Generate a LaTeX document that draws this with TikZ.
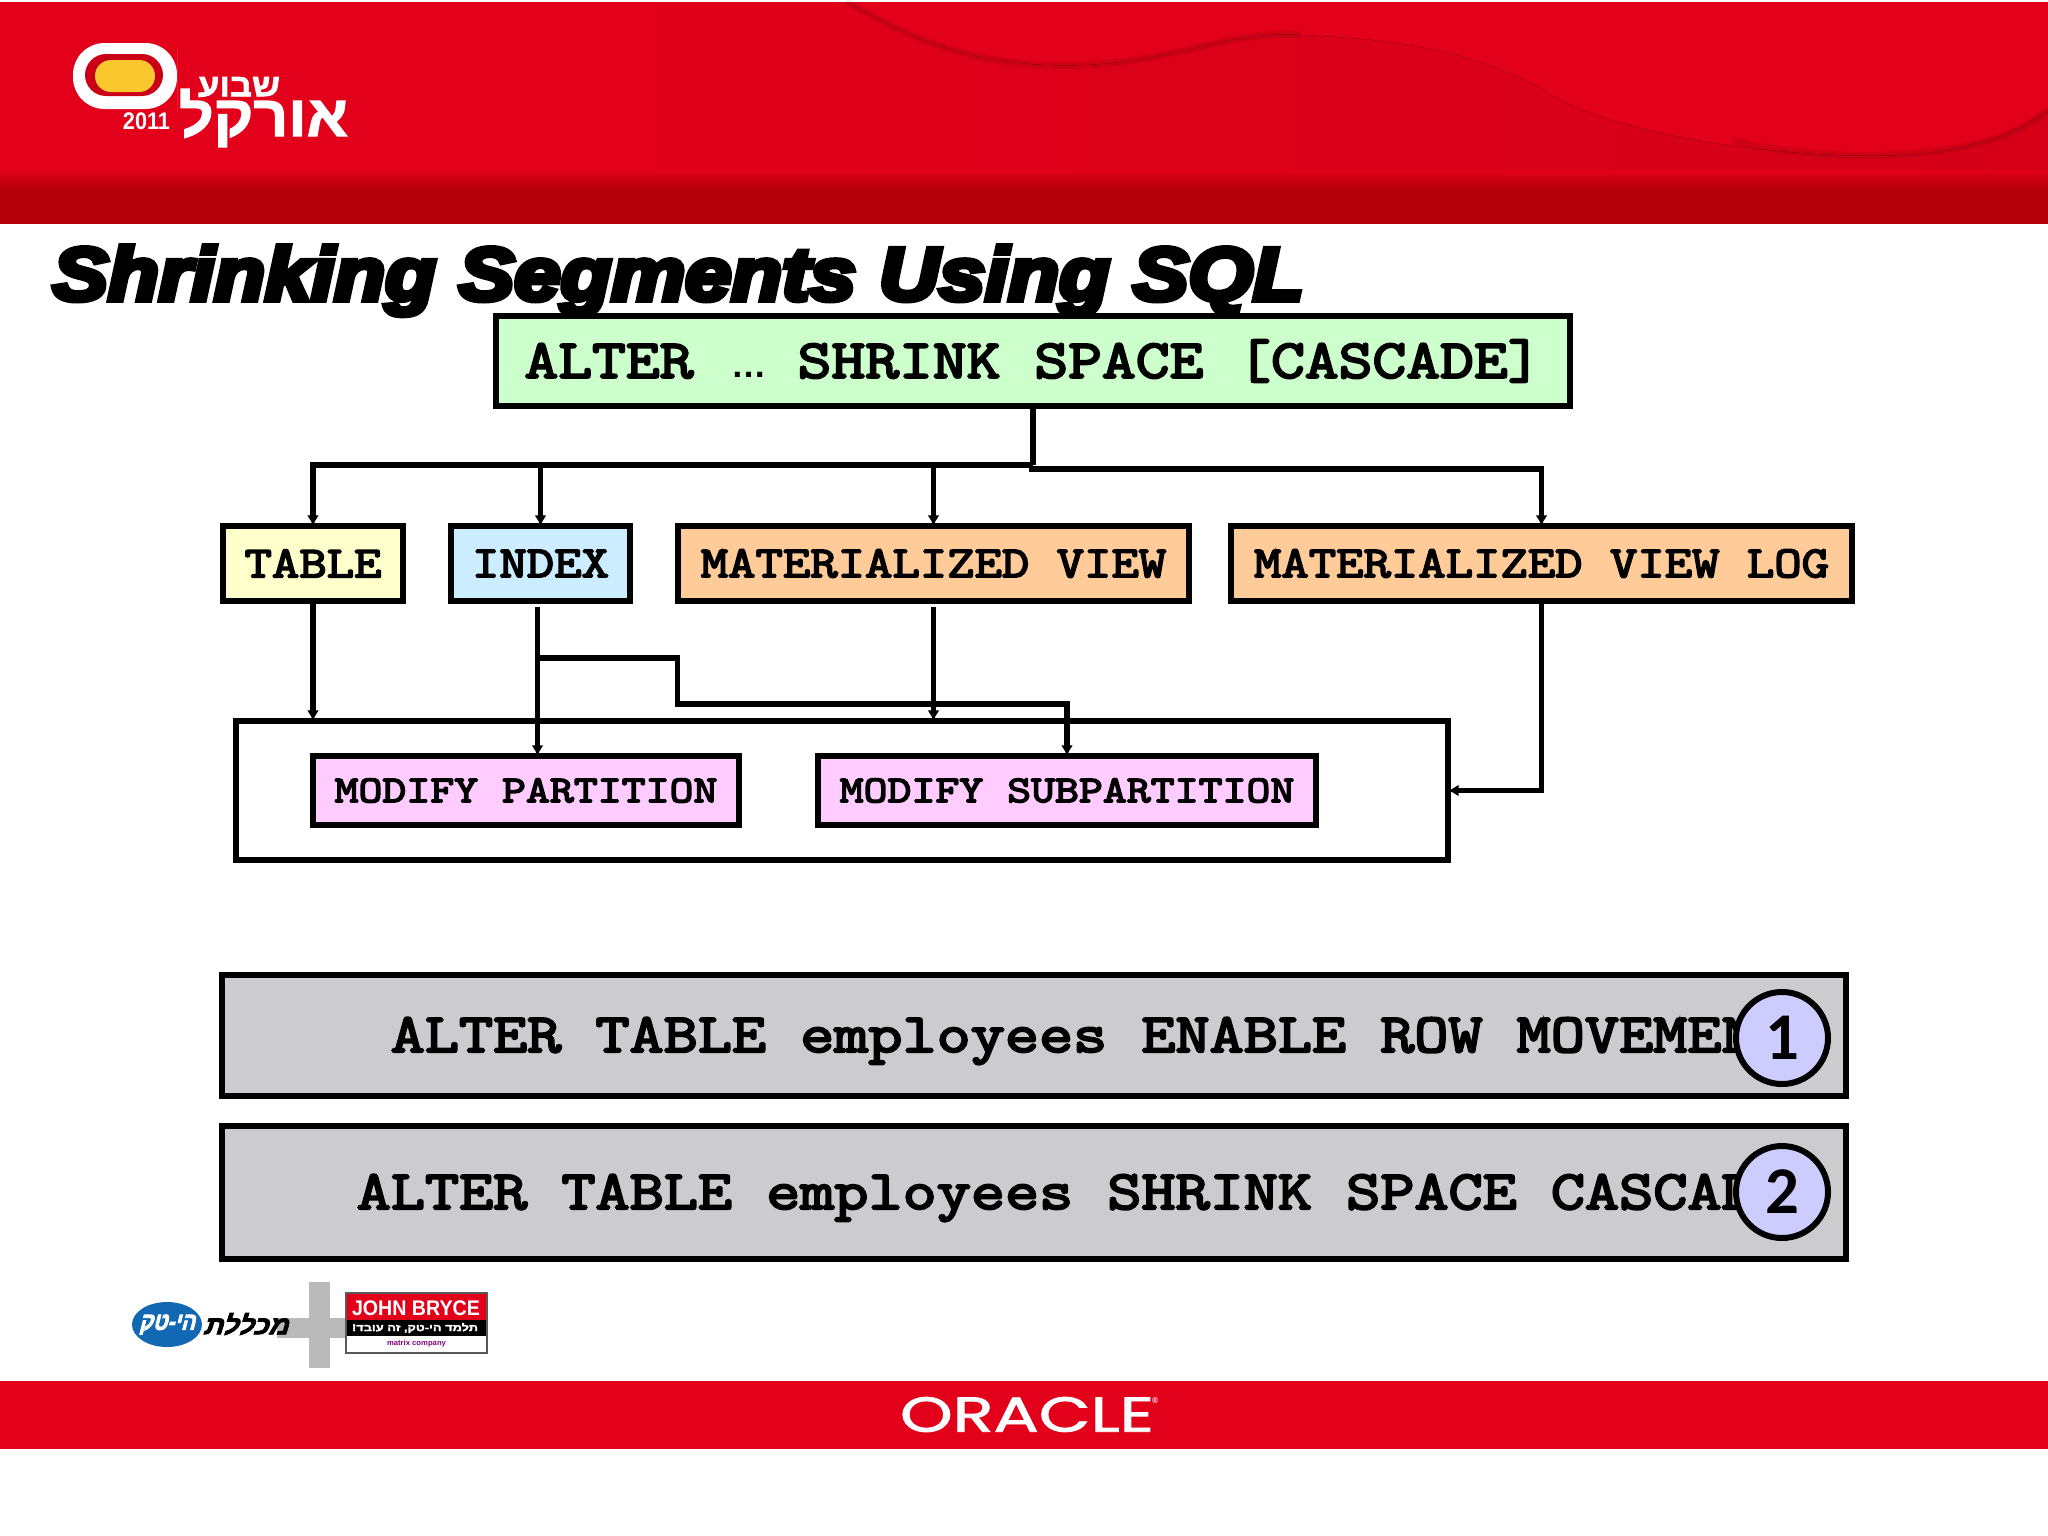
\documentclass[tikz,border=0pt]{standalone}
\usepackage{fontspec}
\usepackage{xcolor}
\usetikzlibrary{arrows.meta,shapes.geometric}
\setmainfont[FakeBold=4,FakeStretch=1.2]{Latin Modern Mono}
\newfontfamily\titlefont[FakeBold=7]{Liberation Sans Bold Italic}
\newfontfamily\hebfont[Script=Hebrew,FakeBold=2]{Liberation Sans Bold}
\newfontfamily\slantfont[Script=Hebrew,FakeBold=3,FakeSlant=0.3]{Liberation Sans Bold}
\newfontfamily\labelfont{Liberation Sans Bold}
\newfontfamily\digitfont{Carlito Bold}
\newfontfamily\oraclefont[FakeBold=1.5]{Poppins}
\TeXXeTstate=1

\definecolor{oraclered}{HTML}{E2001A}
\definecolor{banddark}{HTML}{B30008}
\definecolor{altergreen}{HTML}{CCFFCC}
\definecolor{tableyellow}{HTML}{FFFFCC}
\definecolor{indexblue}{HTML}{CCECFF}
\definecolor{viewtan}{HTML}{FFCC99}
\definecolor{modifypink}{HTML}{FFCCFF}
\definecolor{stepgray}{HTML}{CCCBCD}
\definecolor{badgeblue}{HTML}{CCCCFF}
\definecolor{techblue}{HTML}{1268B3}
\definecolor{logoyellow}{HTML}{FBC72E}

% one pixel of the slide, for sizes of nodes and resized words
\newlength\pxlen
\setlength\pxlen{0.01cm}
\newcommand{\pxbox}[3]{\resizebox*{#1\pxlen}{#2\pxlen}{#3}}

\tikzset{
  kindbox/.style={draw=black, line width=1.6pt, inner sep=0pt, outer sep=0pt, font=\fontsize{12.6}{12.6}\selectfont},
  modifybox/.style={kindbox, fill=modifypink, minimum height=69\pxlen, font=\fontsize{10.8}{10.8}\selectfont},
  stepbox/.style={kindbox, fill=stepgray, minimum width=1624\pxlen},
  steptext/.style={anchor=west, inner sep=0pt, font=\fontsize{15.7}{15.7}\selectfont},
  badge/.style={circle, draw=black, line width=1.7pt, fill=badgeblue, inner sep=0pt, outer sep=0pt, minimum size=92\pxlen, font=\digitfont\fontsize{19}{19}\selectfont},
  flow/.style={draw=black, line width=1.6pt, -{Latex[length=3pt,width=3.4pt]}},
  wire/.style={draw=black, line width=1.6pt},
  logotext/.style={inner sep=0pt, outer sep=0pt, text=white}
}

\begin{document}
\begin{tikzpicture}[x=0.01cm, y=-0.01cm]
  \useasboundingbox (0,0) rectangle (2048,1536);

  % Banner with the wave
  \fill[oraclered] (0,2) rectangle (2048,224);
  \fill[left color=oraclered, middle color=oraclered!90!black, right color=oraclered!94!black]
    (846,2) .. controls (900,30) and (960,70) .. (1087,65)
    .. controls (1180,60) and (1230,30) .. (1302,35)
    .. controls (1400,40) and (1480,50) .. (1560,100)
    .. controls (1640,140) and (1800,160) .. (1904,155)
    .. controls (1980,150) and (2020,130) .. (2048,110) -- (2048,190) -- (600,190) -- (600,2) -- cycle;
  \draw[black, opacity=0.08, line width=2pt] (846,2) .. controls (900,30) and (960,70) .. (1087,65)
    .. controls (1180,60) and (1230,30) .. (1302,35);
  \draw[black, opacity=0.08, line width=2pt] (1732,140) .. controls (1800,160) and (1980,170) .. (2048,110);
  \fill[top color=oraclered, bottom color=banddark] (0,170) rectangle (2048,190);
  \fill[banddark] (0,190) rectangle (2048,224);

  % Logo of the week
  \fill[white, rounded corners=9pt] (73,43) -- (177,43) -- (177,80) -- (177,80) -- (177,109) -- (73,109) -- cycle;
  \fill[oraclered!90!black, rounded corners=6pt] (85,54) rectangle (163,96);
  \fill[logoyellow, rounded corners=4.5pt] (95,60) rectangle (155,92);
  \node[logotext, anchor=south east] (weekword) at (280,97) {\pxbox{82}{20}{\hebfont\beginR שבוע\endR}};
  \node[logotext, anchor=north east] (oracleword) at (348,89) {\pxbox{169}{58}{\hebfont\beginR אורקל\endR}};
  \node[logotext, anchor=north west] (logoyear) at (123,113) {\pxbox{47}{17}{\labelfont 2011}};

  % Title
  \node[inner sep=0pt, anchor=north west] (title) at (52,245) {\pxbox{1251}{70}{\titlefont Shrinking Segments Using SQL}};

  % Statement and the kinds of object
  \node[kindbox, fill=altergreen, minimum width=1074\pxlen, minimum height=90\pxlen, font=\fontsize{15.56}{15.56}\selectfont] (alter) at (1033,361)
    {ALTER\hspace{10.8pt}{\labelfont\fontsize{10}{10}\selectfont …}\hspace{8.8pt}SHRINK SPACE [CASCADE]};
  \foreach \name/\cx/\boxw/\col/\txt in {table/313/180/tableyellow/TABLE, index/540.5/179/indexblue/INDEX,
      mview/933.5/511/viewtan/MATERIALIZED VIEW, mvlog/1541.5/621/viewtan/MATERIALIZED VIEW LOG} {
    \node[kindbox, fill=\col, minimum width=\boxw\pxlen, minimum height=75\pxlen] (\name) at (\cx,563.5) {\txt};
  }

  % Frame round the two modify clauses
  \node[draw=black, line width=1.6pt, inner sep=0pt, outer sep=0pt, minimum width=1212\pxlen, minimum height=139\pxlen] (frame) at (842,790.5) {};
  \node[modifybox, minimum width=426\pxlen] (mpart) at (526,790.5) {MODIFY PARTITION};
  \node[modifybox, minimum width=498\pxlen] (msub) at (1067,790.5) {MODIFY SUBPARTITION};

  % Bus under the statement
  \coordinate (busleft) at (1033,465);
  \coordinate (busright) at (1029,469);
  \draw[wire] (alter.south) -- (busleft);
  \draw[flow] (busleft) -| (table.north);
  \draw[flow] (busleft) -| (index.north);
  \draw[flow] (busleft) -| (mview.north);
  \draw[flow] (busright) -| (mvlog.north);

  % Down to the frame and the clauses
  \coordinate (indexfoot) at (537.5,607);
  \coordinate (indexfork) at (537.5,658);
  \coordinate (mviewfoot) at (933.5,607);
  \draw[flow] (table.south) -- (table.south |- frame.north);
  \draw[flow] (indexfoot) -- (indexfoot |- mpart.north);
  \draw[flow] (indexfork) -- (677.5,658) -- (677.5,704) -| (msub.north);
  \draw[flow] (mviewfoot) -- (mviewfoot |- frame.north);
  \draw[flow] (mvlog.south) |- (frame.east);

  % The two commands
  \foreach \n/\cy/\boxh/\ty/\tx/\txt in {1/1035.5/121/1041/390/ALTER TABLE employees ENABLE ROW MOVEMENT,
      2/1192.5/133/1198/356/ALTER TABLE employees SHRINK SPACE CASCADE} {
    \node[stepbox, minimum height=\boxh\pxlen] (step\n) at (1034,\cy) {};
    \node[steptext] (steptxt\n) at (\tx,\ty) {\txt};
  }
  \node[badge] (badge1) at (1782,1038) {1};
  \node[badge] (badge2) at (1782,1192) {2};

  % Partner logos
  \fill[black!27] (309,1282) rectangle (330,1368);
  \fill[black!27] (277,1318) rectangle (347,1338);
  \node[ellipse, fill=techblue, minimum width=70\pxlen, minimum height=45\pxlen, inner sep=0pt] (techoval) at (167,1324.5) {};
  \node[logotext] (techword) at (167,1324.5) {\pxbox{56}{20}{\slantfont\beginR הי-טק\endR}};
  \node[inner sep=0pt] (collegeword) at (245.5,1324) {\pxbox{85}{22}{\slantfont\beginR מכללת\endR}};
  \fill[white] (346,1293) rectangle (487,1353);
  \fill[oraclered] (346,1293) rectangle (487,1320);
  \fill[black] (346,1320) rectangle (487,1336);
  \draw[black!65, line width=0.5pt] (346,1293) rectangle (487,1353);
  \node[logotext] (brycename) at (416,1308.5) {\pxbox{128}{15}{\labelfont JOHN BRYCE}};
  \node[logotext] (bryceline) at (415,1328) {\pxbox{126}{10}{\hebfont\beginR תלמד הי-טק, זה עובד!\endR}};
  \node[inner sep=0pt, text=violet] (brycesmall) at (416.5,1344) {\pxbox{59}{7}{\labelfont matrix company}};

  % Footer
  \fill[oraclered] (0,1381) rectangle (2048,1449);
  \node[logotext] (oraclemark) at (1027,1414.5) {\pxbox{254}{35}{\oraclefont ORACLE}};
  \node[logotext] (oraclereg) at (1155,1401) {\pxbox{6}{6}{\labelfont®}};
\end{tikzpicture}
\end{document}
